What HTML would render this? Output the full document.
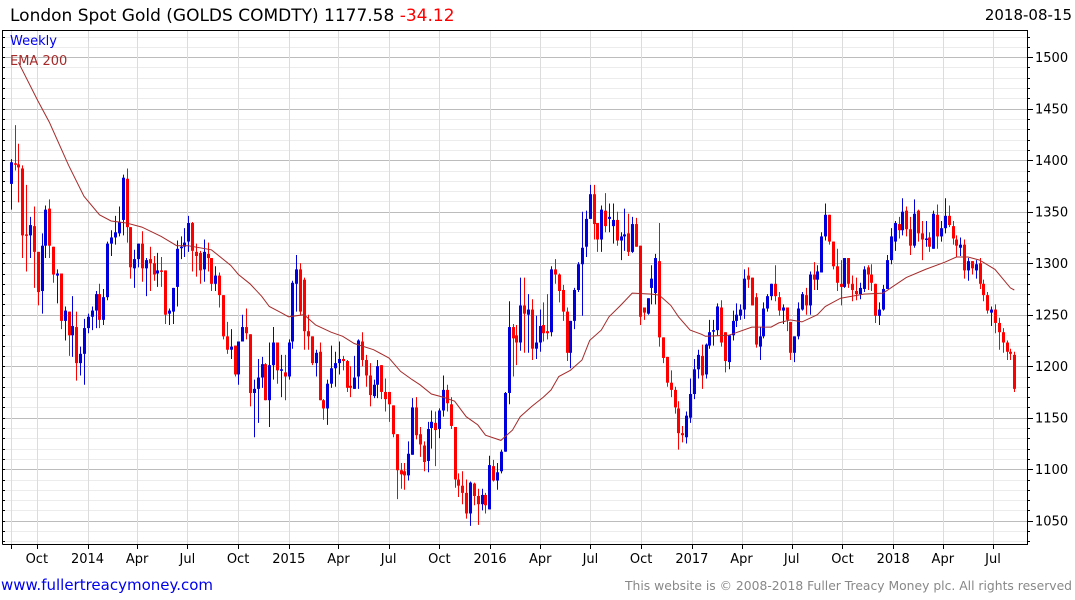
<!DOCTYPE html>
<html><head><meta charset="utf-8"><style>
html,body{margin:0;padding:0;background:#fff;}
svg{display:block;font-family:"DejaVu Sans","Liberation Sans",sans-serif;}
</style></head><body>
<svg id="chart" width="1075" height="600" viewBox="0 0 1075 600" xmlns="http://www.w3.org/2000/svg">
<g id="grid"></g>
<g id="axes"></g>
<g id="candles"></g>
<path id="ema" fill="none" stroke="#a52a2a" stroke-width="1"/>
<text x="10" y="21" font-size="17" fill="#000">London Spot Gold (GOLDS COMDTY) 1177.58 <tspan fill="#ff0000">-34.12</tspan></text>
<text x="1072" y="20" font-size="15" fill="#000" text-anchor="end">2018-08-15</text>
<text x="10" y="45" font-size="13" fill="#0000ee">Weekly</text>
<text x="10" y="65" font-size="13" fill="#a52a2a">EMA 200</text>
<text x="1" y="590" font-size="15" fill="#0000ee">www.fullertreacymoney.com</text>
<text x="625" y="590" font-size="12" fill="#888888" textLength="447" lengthAdjust="spacingAndGlyphs">This website is &#169; 2008-2018 Fuller Treacy Money plc. All rights reserved</text>
</svg>
<script>
const opens=[1377,1397,1396,1392,1328,1327,1336,1311,1273,1317,1353,1316,1288,1290,1244,1253,1230,1238,1203,1212,1237,1248,1254,1270,1245,1267,1319,1325,1329,1342,1382,1335,1295,1304,1319,1295,1304,1300,1290,1293,1293,1251,1253,1277,1315,1316,1321,1339,1311,1310,1294,1309,1305,1280,1288,1269,1229,1216,1220,1192,1224,1238,1231,1174,1178,1189,1202,1167,1201,1223,1196,1194,1190,1224,1280,1294,1284,1234,1229,1203,1214,1167,1159,1183,1198,1203,1207,1205,1181,1178,1190,1224,1206,1191,1171,1182,1201,1175,1175,1162,1134,1099,1098,1094,1114,1160,1134,1123,1108,1140,1145,1139,1157,1177,1163,1141,1090,1084,1077,1057,1086,1074,1066,1075,1061,1103,1089,1098,1117,1174,1238,1230,1223,1259,1250,1255,1217,1223,1240,1234,1233,1294,1289,1274,1253,1213,1244,1274,1299,1316,1343,1367,1339,1323,1351,1343,1336,1342,1322,1326,1329,1311,1338,1317,1257,1251,1276,1271,1302,1228,1209,1184,1177,1159,1135,1131,1150,1173,1197,1210,1192,1220,1234,1235,1257,1233,1204,1230,1244,1249,1255,1288,1286,1267,1219,1229,1256,1268,1280,1267,1254,1257,1243,1213,1229,1255,1269,1259,1289,1284,1291,1326,1347,1321,1297,1280,1277,1305,1280,1273,1270,1275,1296,1289,1280,1249,1255,1275,1303,1321,1338,1332,1351,1333,1317,1351,1329,1323,1325,1314,1347,1326,1334,1346,1336,1323,1315,1318,1293,1302,1293,1300,1280,1269,1252,1255,1242,1233,1223,1214,1211];
const highs=[1401,1434,1416,1395,1376,1345,1355,1311,1329,1356,1362,1316,1294,1290,1258,1253,1268,1253,1219,1246,1251,1258,1273,1280,1275,1321,1332,1346,1355,1386,1392,1335,1313,1319,1331,1305,1316,1307,1310,1306,1293,1256,1276,1322,1326,1334,1346,1340,1319,1312,1323,1320,1305,1297,1291,1269,1243,1236,1220,1224,1250,1256,1231,1187,1207,1209,1203,1223,1238,1223,1211,1211,1226,1283,1308,1300,1286,1250,1229,1216,1223,1168,1187,1220,1214,1224,1210,1206,1200,1210,1226,1233,1211,1203,1187,1206,1201,1188,1175,1162,1134,1106,1106,1127,1169,1170,1141,1127,1146,1157,1156,1159,1191,1182,1170,1141,1096,1098,1090,1088,1087,1081,1081,1077,1113,1109,1106,1119,1175,1263,1241,1240,1286,1286,1270,1265,1249,1255,1262,1270,1297,1304,1290,1279,1257,1244,1276,1301,1350,1351,1376,1376,1339,1356,1368,1358,1358,1350,1330,1353,1348,1345,1344,1317,1257,1266,1298,1309,1339,1228,1209,1196,1180,1166,1142,1156,1188,1207,1216,1221,1222,1245,1245,1261,1264,1233,1230,1254,1261,1260,1294,1296,1286,1271,1238,1262,1270,1280,1298,1272,1260,1257,1243,1229,1262,1272,1276,1292,1301,1298,1330,1358,1347,1321,1314,1303,1305,1305,1288,1286,1281,1297,1298,1299,1280,1262,1279,1308,1334,1341,1345,1363,1355,1345,1362,1352,1341,1341,1330,1351,1357,1341,1363,1356,1341,1327,1325,1323,1305,1302,1303,1305,1284,1272,1258,1260,1247,1237,1225,1217,1214];
const lows=[1352,1390,1359,1305,1292,1305,1276,1259,1251,1305,1305,1281,1261,1236,1225,1210,1209,1186,1191,1182,1232,1235,1237,1237,1240,1264,1307,1318,1326,1327,1320,1285,1276,1296,1282,1268,1273,1283,1277,1277,1241,1240,1241,1258,1304,1306,1311,1292,1287,1280,1282,1292,1273,1273,1257,1226,1212,1207,1190,1182,1224,1226,1161,1131,1145,1179,1167,1141,1187,1183,1170,1167,1187,1217,1253,1250,1216,1216,1201,1190,1167,1148,1143,1179,1180,1192,1196,1175,1170,1178,1178,1200,1180,1161,1169,1169,1168,1156,1146,1131,1071,1081,1080,1089,1114,1129,1112,1098,1097,1120,1103,1130,1151,1156,1139,1082,1073,1066,1052,1045,1065,1046,1060,1057,1061,1088,1080,1096,1117,1163,1190,1201,1215,1213,1213,1206,1207,1214,1224,1226,1229,1280,1262,1244,1205,1198,1236,1272,1249,1306,1343,1323,1311,1311,1330,1330,1319,1317,1303,1312,1307,1310,1316,1240,1245,1250,1260,1260,1219,1203,1180,1170,1154,1119,1126,1125,1145,1168,1188,1178,1188,1217,1220,1230,1219,1194,1197,1225,1238,1245,1246,1276,1259,1218,1206,1227,1253,1264,1263,1249,1241,1234,1206,1204,1226,1254,1250,1250,1274,1274,1291,1322,1318,1294,1273,1259,1276,1276,1263,1264,1265,1272,1274,1273,1242,1240,1254,1275,1299,1312,1324,1327,1326,1308,1315,1321,1303,1316,1311,1314,1314,1321,1329,1335,1318,1306,1307,1285,1283,1289,1285,1275,1263,1251,1239,1232,1216,1213,1206,1206,1175];
const closes=[1398,1396,1393,1327,1327,1337,1311,1272,1317,1352,1317,1289,1290,1244,1254,1230,1239,1203,1212,1237,1248,1254,1270,1245,1267,1319,1325,1330,1340,1383,1335,1296,1304,1319,1295,1303,1300,1289,1293,1292,1250,1254,1276,1314,1316,1320,1339,1312,1307,1293,1311,1305,1280,1288,1269,1229,1216,1219,1192,1224,1238,1232,1174,1178,1189,1202,1167,1201,1223,1196,1197,1190,1223,1281,1294,1253,1234,1229,1203,1213,1167,1159,1183,1198,1203,1207,1205,1179,1179,1189,1225,1206,1191,1172,1182,1200,1175,1168,1163,1134,1099,1095,1094,1115,1160,1133,1124,1107,1139,1146,1138,1157,1177,1164,1142,1090,1084,1077,1057,1087,1074,1066,1075,1065,1104,1089,1097,1117,1174,1238,1227,1223,1259,1251,1255,1217,1223,1239,1232,1232,1294,1289,1273,1253,1213,1244,1274,1299,1315,1343,1367,1338,1323,1352,1336,1345,1342,1322,1326,1328,1311,1338,1316,1248,1252,1266,1285,1305,1228,1208,1184,1177,1160,1135,1133,1152,1173,1197,1211,1191,1221,1233,1235,1258,1223,1205,1230,1244,1250,1255,1285,1284,1259,1221,1229,1256,1268,1280,1268,1254,1257,1245,1213,1229,1256,1270,1259,1289,1284,1292,1326,1347,1321,1297,1281,1277,1305,1280,1274,1270,1276,1294,1289,1281,1249,1255,1275,1303,1326,1339,1332,1350,1333,1317,1348,1329,1323,1324,1316,1348,1326,1334,1346,1337,1324,1317,1318,1293,1302,1295,1299,1280,1269,1254,1255,1242,1233,1223,1214,1212,1178];
const emaWeeks=[2,7,10,15,19,23,26,30,34,39,43,46,52,57,59,62,65,67,70,72,76,79,83,86,89,94,98,101,104,106,109,112,115,118,121,123,127,130,132,135,138,140,142,145,148,150,153,155,158,161,166,168,171,173,176,179,180,186,192,197,199,202,205,209,211,215,221,226,232,237,242,245,248,251,255,259,260];
const emaValues=[1495,1458,1437,1395,1365,1347,1341,1339,1335,1326,1317,1317,1313,1298,1289,1280,1268,1258,1252,1248,1250,1240,1233,1229,1222,1216,1208,1195,1187,1182,1173,1170,1166,1151,1143,1133,1128,1138,1151,1161,1170,1177,1190,1196,1206,1225,1235,1248,1259,1271,1270,1269,1259,1248,1235,1231,1229,1230,1238,1238,1242,1245,1243,1250,1258,1266,1270,1271,1286,1294,1301,1306,1306,1303,1294,1276,1274];
const yTickValues=[1050,1100,1150,1200,1250,1300,1350,1400,1450,1500];
const xTickLabels=['Oct','2014','Apr','Jul','Oct','2015','Apr','Jul','Oct','2016','Apr','Jul','Oct','2017','Apr','Jul','Oct','2018','Apr','Jul'];
const xTickDates=['2013-10-01','2014-01-01','2014-04-01','2014-07-01','2014-10-01','2015-01-01','2015-04-01','2015-07-01','2015-10-01','2016-01-01','2016-04-01','2016-07-01','2016-10-01','2017-01-01','2017-04-01','2017-07-01','2017-10-01','2018-01-01','2018-04-01','2018-07-01'];

const NS='http://www.w3.org/2000/svg';
const N=closes.length;
const PL=2, PR=1027, PT=30, PB=544;
function xScale(i){return 10.7+i*(1003.6/(N-1));}
function yScale(v){return 211.7+(1350-v)*1.03;}
const firstDay=Date.UTC(2018,7,15)-(N-1)*7*86400000;
function xDate(s){const p=s.split('-');const d=Date.UTC(+p[0],+p[1]-1,+p[2]);return xScale((d-firstDay)/604800000)+3.5;}
function mk(tag,attrs,parent){const e=document.createElementNS(NS,tag);for(const k in attrs)e.setAttribute(k,attrs[k]);parent.appendChild(e);return e;}
const grid=document.getElementById('grid'),axes=document.getElementById('axes'),cg=document.getElementById('candles');
for(let v=1030;v<=1520;v+=10){
  const y=Math.round(yScale(v))+0.5;
  if(y<=PT||y>=PB)continue;
  const major=v%50===0;
  const l=mk('line',{x1:PL,x2:PR,y1:y,y2:y,stroke:major?'#bcbcbc':'#ececec','stroke-width':1},grid);
  
  
  const t=mk('line',{x1:PR,x2:PR+(major?6:3),y1:y,y2:y,stroke:'#000'},axes);
  
  
  const t2=mk('line',{x1:PL,x2:PL+3,y1:y,y2:y,stroke:'#000'},axes);
  
  
}
yTickValues.forEach(v=>{
  const t=mk('text',{x:PR+8,y:yScale(v)+5,'font-size':13,fill:'#000'},axes);
  t.textContent=v;
  
  
});
const vx=[xScale(0)].concat(xTickDates.map(xDate));
vx.forEach(x=>{
  const xx=Math.round(x)+0.5;
  const l=mk('line',{x1:xx,x2:xx,y1:PT,y2:PB,stroke:'#dcdcdc'},grid);
  
  
  const t=mk('line',{x1:xx,x2:xx,y1:PB,y2:PB+5,stroke:'#000'},axes);
  
  
});
xTickLabels.forEach((s,i)=>{
  const t=mk('text',{x:xDate(xTickDates[i]),y:563,'font-size':13,fill:'#000','text-anchor':'middle'},axes);
  t.textContent=s;
  
  
});
const fr=mk('path',{d:`M${PL+0.5},${PB+0.5} V${PT+0.5} H${PR+0.5} V${PB+0.5} H${PL+0.5}`,fill:'none',stroke:'#000','stroke-width':1},axes);


for(let i=0;i<N;i++){
  const up=closes[i]>=opens[i];
  const col=up?'#0000dd':'#ff0000';
  const x=Math.round(xScale(i));
  const w=mk('line',{x1:x+0.5,x2:x+0.5,y1:yScale(highs[i]),y2:yScale(lows[i]),stroke:col,'stroke-width':1},cg);
  
  
  const top=yScale(Math.max(opens[i],closes[i])),bot=yScale(Math.min(opens[i],closes[i]));
  const b=mk('rect',{x:x-1,y:top,width:3,height:Math.max(1.5,bot-top),fill:col},cg);
  
  
}
let d='';
emaWeeks.forEach((wk,i)=>{d+=(i?'L':'M')+xScale(wk).toFixed(1)+','+yScale(emaValues[i]).toFixed(1);});
document.getElementById('ema').setAttribute('d',d);
</script>
</body></html>
